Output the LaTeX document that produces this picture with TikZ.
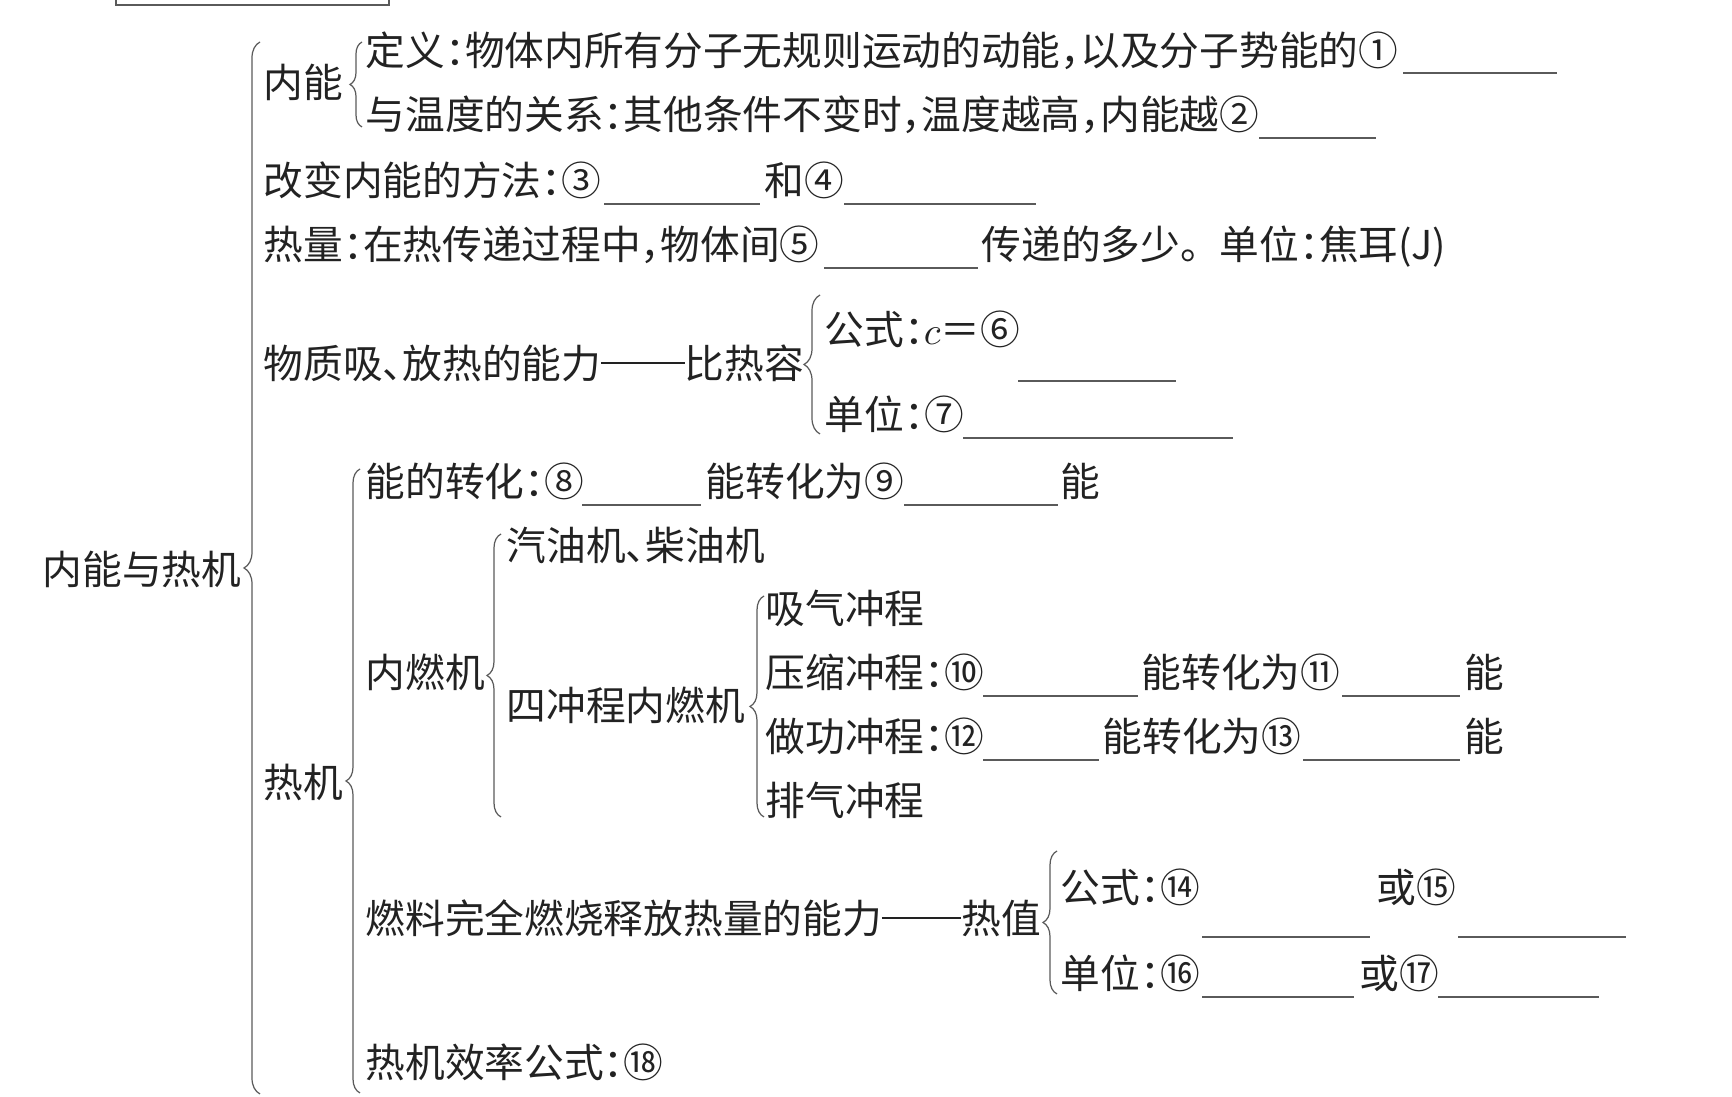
\documentclass[tikz,border=0pt]{standalone}
\usepackage{fontspec}
\usepackage{tikz}
\usetikzlibrary{decorations.pathreplacing}
\newfontfamily\cjk[RawFeature=+halt]{Noto Sans CJK SC}
\definecolor{inkgray}{HTML}{222222}
\definecolor{linegray}{HTML}{5A5A5A}

\begin{document}
\begin{tikzpicture}[x=0.1mm,y=-0.1mm,
    txt/.style={anchor=west,inner sep=0pt,text height=0.88em,text depth=0.12em,
      font=\cjk\fontsize{11.3}{13}\selectfont,text=inkgray},
    blank/.style={linegray,line width=0.35pt},
    brc/.style={linegray,line width=0.35pt,decorate,decoration={brace,amplitude=#1}},
    brc/.default=1.4mm]
    \useasboundingbox (0,0) rectangle (1732,1097);
    \draw[linegray,line width=0.6pt] (116,-20) rectangle (389,5);
    % root and first level
    \node[txt] (root) at (42,571) {内能与热机};
    \node[txt] (neineng) at (263,84) {内能};
    \node[txt] (dingyi) at (365,52) {定义：物体内所有分子无规则运动的动能，以及分子势能的①};
    \node[txt] (wendu) at (365,116) {与温度的关系：其他条件不变时，温度越高，内能越②};
    \node[txt] (gaibian) at (263,182) {改变内能的方法：③};
    \node[txt] (he) at (764,182) {和④};
    \node[txt] (reliang) at (263,246) {热量：在热传递过程中，物体间⑤};
    \node[txt] (chuandi) at (981,246) {传递的多少。\hspace{0.5em}单位：焦耳(J)};
    \node[txt] (wuzhi) at (263,365) {物质吸、放热的能力\rule[0.36em]{2.1em}{0.04em}比热容};
    \node[txt] (bgongshi) at (824,331) {公式：$c$＝⑥};
    \node[txt] (bdanwei) at (824,416) {单位：⑦};
    % heat engine
    \node[txt] (reji) at (263,784) {热机};
    \node[txt] (zhuanhua) at (365,483) {能的转化：⑧};
    \node[txt] (zhuanwei) at (705,483) {能转化为⑨};
    \node[txt] (neng) at (1060,483) {能};
    \node[txt] (neiran) at (365,674) {内燃机};
    \node[txt] (qiyou) at (506,547) {汽油机、柴油机};
    \node[txt] (sichong) at (506,707) {四冲程内燃机};
    \node[txt] (xiqi) at (765,610) {吸气冲程};
    \node[txt] (yasuo) at (765,674) {压缩冲程：⑩};
    \node[txt] (yzhuan) at (1141,674) {能转化为⑪};
    \node[txt] (yneng) at (1464,674) {能};
    \node[txt] (zuogong) at (765,738) {做功冲程：⑫};
    \node[txt] (zzhuan) at (1102,738) {能转化为⑬};
    \node[txt] (zneng) at (1464,738) {能};
    \node[txt] (paiqi) at (765,802) {排气冲程};
    \node[txt] (ranliao) at (365,920) {燃料完全燃烧释放热量的能力\rule[0.36em]{2em}{0.04em}热值};
    \node[txt] (rgongshi) at (1060,889) {公式：⑭};
    \node[txt] (rhuo) at (1376,889) {或⑮};
    \node[txt] (rdanwei) at (1060,975) {单位：⑯};
    \node[txt] (rhuo2) at (1359,975) {或⑰};
    \node[txt] (xiaolv) at (365,1064) {热机效率公式：⑱};
    % braces
    \foreach \x/\t/\b/\amp in {260/42/1094/1.6mm, 362/42/127/1.2mm, 820/295/434/1.6mm,
      360/469/1093/1.4mm, 501/534/817/1.4mm, 764/596/817/1.4mm, 1057/851/994/1.4mm}
      \draw[brc=\amp] (\x,\b) -- (\x,\t);
    % blanks
    \foreach \a/\b/\y in {1403/1557/73, 1259/1376/138, 604/760/204, 844/1036/204, 824/978/268,
      1018/1176/381, 963/1233/438, 582/701/505, 904/1058/505, 983/1138/696, 1342/1460/696,
      983/1099/760, 1303/1460/760, 1202/1370/937, 1458/1626/937, 1202/1354/997, 1438/1599/997}
      \draw[blank] (\a,\y) -- (\b,\y);
\end{tikzpicture}
\end{document}
